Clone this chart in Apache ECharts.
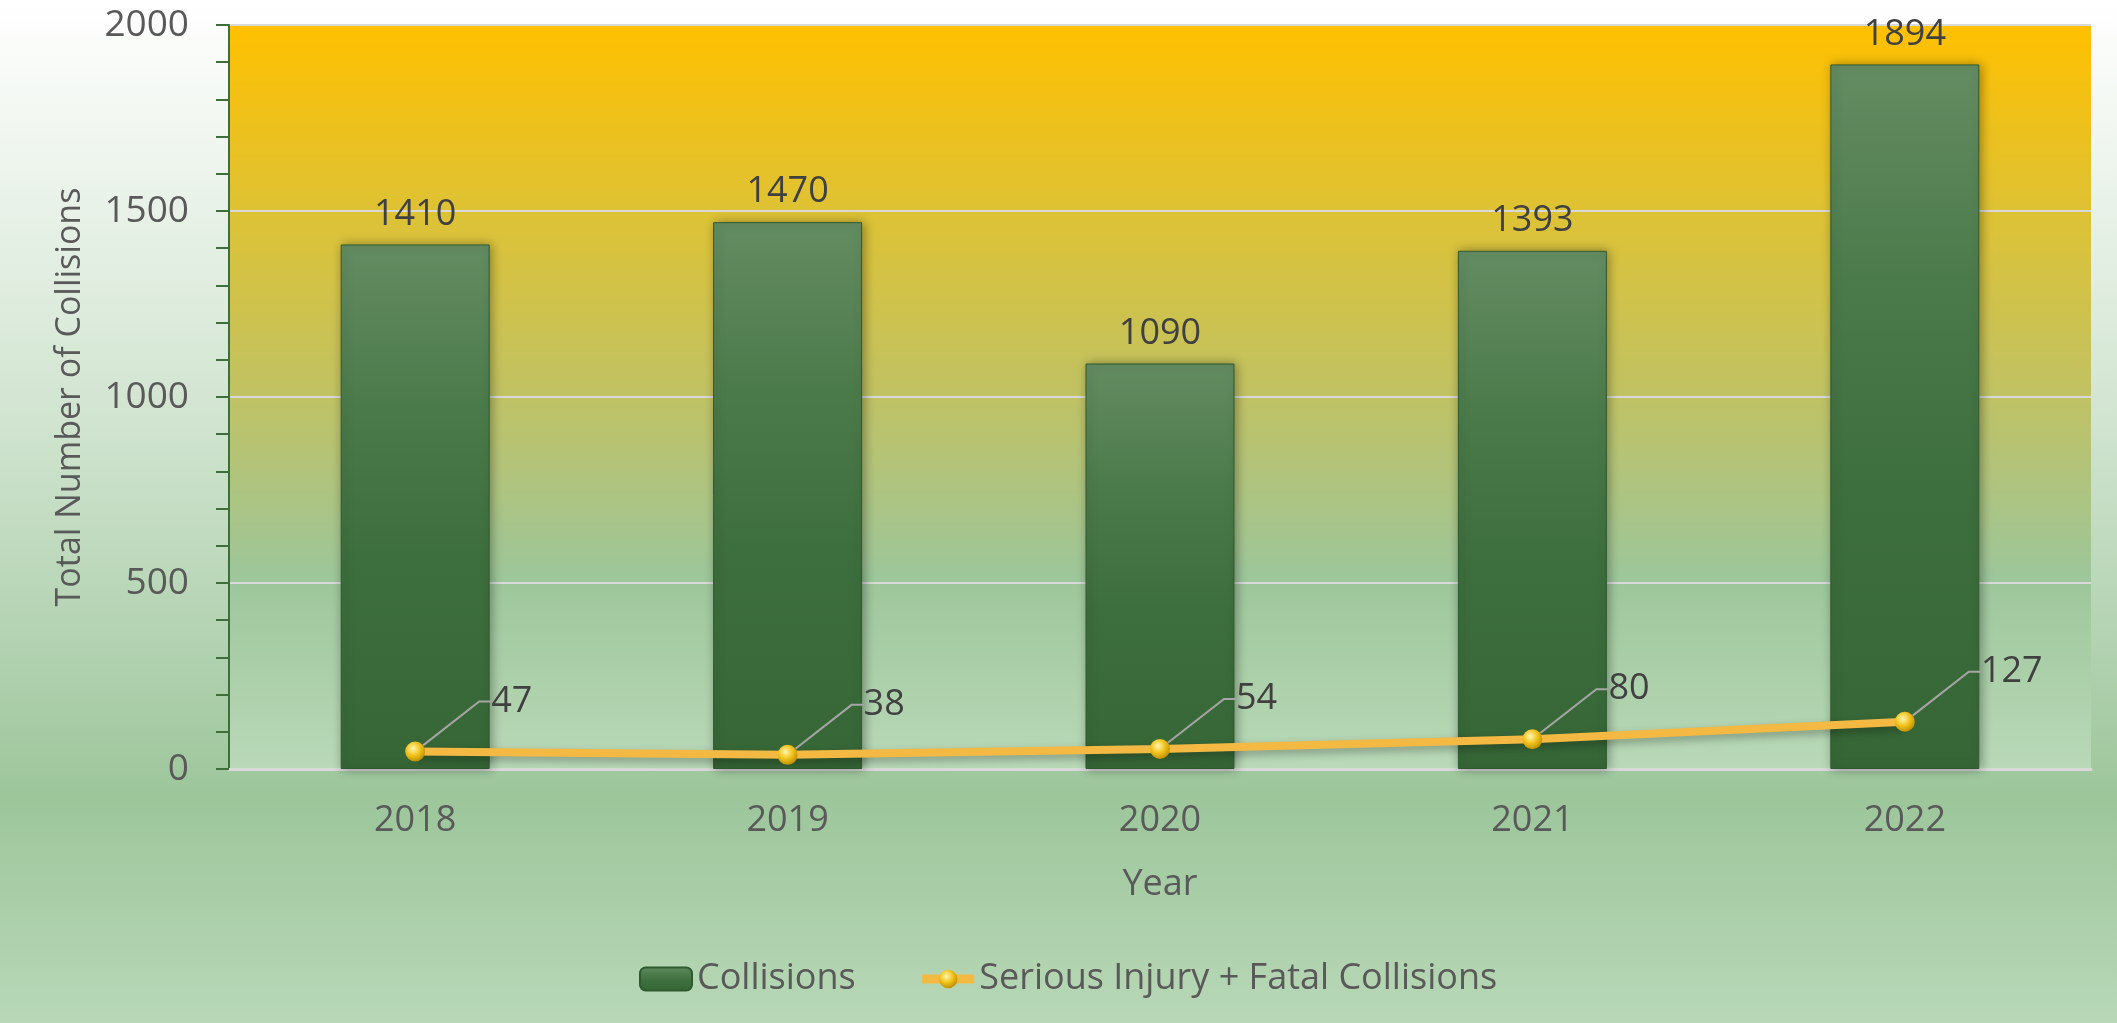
<!DOCTYPE html>
<html>
<head>
<meta charset="utf-8">
<script src="https://cdn.jsdelivr.net/npm/echarts@6/dist/echarts.min.js"></script>
<style>
  html, body { margin: 0; padding: 0; }
  #chart { width: 2117px; height: 1023px; }
</style>
</head>
<body>
<div id="chart"></div>
<script>
var years = ['2018', '2019', '2020', '2021', '2022'];
var collisions = [1410, 1470, 1090, 1393, 1894];
var seriousFatal = [47, 38, 54, 80, 127];

var font = 'Open Sans';
var chart = echarts.init(document.getElementById('chart'));

chart.setOption({
    backgroundColor: new echarts.graphic.LinearGradient(0, 0, 0, 1, [
        { offset: 0, color: '#ffffff' },
        { offset: 0.4, color: '#d2e5d1' },
        { offset: 0.78, color: '#9dc69b' },
        { offset: 1, color: '#b8d8b7' }
    ]),
    textStyle: { fontFamily: font },
    grid: {
        left: 229, right: 26, top: 25, bottom: 254,
        show: true, borderWidth: 0,
        backgroundColor: new echarts.graphic.LinearGradient(0, 0, 0, 1, [
            { offset: 0, color: '#ffc000' },
            { offset: 0.25, color: '#dec234' },
            { offset: 0.5, color: '#c0c264' },
            { offset: 0.74, color: '#9dc69a' },
            { offset: 1, color: '#b9d9b8' }
        ])
    },
    legend: {
        left: 634, top: 956,
        itemWidth: 52, itemHeight: 23, itemGap: 62,
        textStyle: { fontFamily: font, fontSize: 36, color: '#595959' },
        data: [
            { name: 'Collisions' },
            { name: 'Serious Injury + Fatal Collisions', lineStyle: { width: 9 } }
        ]
    },
    xAxis: {
        type: 'category',
        data: years,
        name: 'Year', nameLocation: 'middle', nameGap: 98,
        nameTextStyle: { fontSize: 36, color: '#595959' },
        axisLine: { lineStyle: { color: '#d9d9d9', width: 3 } },
        axisTick: { show: false },
        axisLabel: { fontSize: 36, color: '#595959', margin: 34 }
    },
    yAxis: {
        type: 'value', min: 0, max: 2000, interval: 500,
        name: 'Total Number of Collisions', nameLocation: 'middle', nameGap: 142,
        nameTextStyle: { fontSize: 34, color: '#595959' },
        axisLine: { show: true, lineStyle: { color: '#3e6e3a', width: 2 } },
        axisTick: { show: true, inside: false, length: 13, lineStyle: { color: '#3e6e3a', width: 2 } },
        minorTick: { show: true, splitNumber: 5, length: 13, lineStyle: { color: '#3e6e3a', width: 2 } },
        axisLabel: {
            fontSize: 37, color: '#595959', margin: 40,
            formatter: function (v) { return String(v); }
        },
        splitLine: { lineStyle: { color: '#d9d9d9', width: 2 } }
    },
    series: [
        {
            name: 'Collisions',
            type: 'bar',
            data: collisions,
            barWidth: '40%',
            itemStyle: {
                color: new echarts.graphic.LinearGradient(0, 0, 0, 1, [
                    { offset: 0, color: '#648c62' },
                    { offset: 0.3, color: '#4c7b4b' },
                    { offset: 0.6, color: '#3d6e3d' },
                    { offset: 1, color: '#366636' }
                ]),
                borderColor: '#2f5a2f', borderWidth: 1,
                shadowColor: 'rgba(0,0,0,0.35)', shadowBlur: 10, shadowOffsetX: 2
            },
            label: {
                show: true, position: 'top', distance: 12,
                fontSize: 36, color: '#404040'
            }
        },
        {
            name: 'Serious Injury + Fatal Collisions',
            type: 'line',
            data: seriousFatal,
            symbol: 'circle', symbolSize: 20,
            lineStyle: {
                color: '#f4b942', width: 8,
                shadowColor: 'rgba(0,0,0,0.3)', shadowBlur: 8, shadowOffsetY: 4
            },
            itemStyle: {
                color: new echarts.graphic.RadialGradient(0.4, 0.35, 0.7, [
                    { offset: 0, color: '#fff6b0' },
                    { offset: 0.5, color: '#f2c31c' },
                    { offset: 1, color: '#b88a00' }
                ]),
                borderWidth: 0
            },
            label: {
                show: true, position: 'right', distance: 5,
                padding: [0, 0, 0, 9],
                fontSize: 36, color: '#404040'
            },
            labelLayout: { dx: 52, dy: -50 },
            labelLine: { show: true, length2: 12, lineStyle: { color: '#a6a6a6', width: 2 } },
            z: 5
        }
    ]
});
</script>
</body>
</html>
